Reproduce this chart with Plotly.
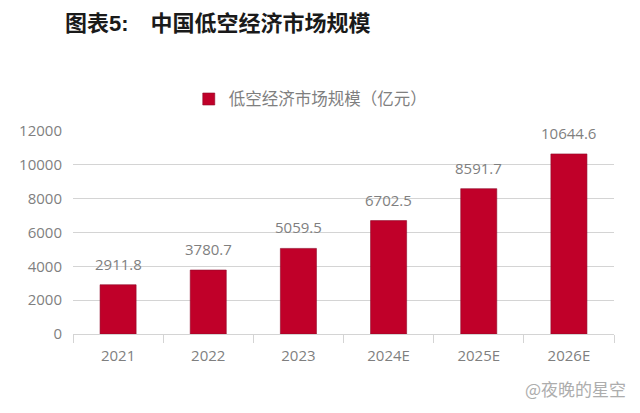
import plotly.graph_objects as go

years = ["2021", "2022", "2023", "2024E", "2025E", "2026E"]
market_size = [2911.8, 3780.7, 5059.5, 6702.5, 8591.7, 10644.6]
y_ticks = [0, 2000, 4000, 6000, 8000, 10000, 12000]

# the page body has an 8px margin, so figure coords = screenshot coords - 8
W, H = 624, 397
LEFT, RIGHT, TOP, BOTTOM = 65, 606, 123, 326
GREY = "#7f7f7f"
LINE = "#d4d4d4"
CJK = "Noto Sans CJK SC"

fig = go.Figure(
    go.Bar(x=years, y=market_size, name="低空经济市场规模（亿元）",
           width=0.4, marker=dict(color="#c00029", line=dict(color="#8e0a2a", width=0.6))))

fig.update_layout(
    width=W, height=H, autosize=False,
    paper_bgcolor="white", plot_bgcolor="white",
    font=dict(family="Open Sans, " + CJK, color=GREY),
    margin=dict(l=LEFT, r=W - RIGHT, t=TOP, b=H - BOTTOM, pad=0),
    showlegend=True,
    legend=dict(orientation="h", x=0.214, xanchor="left", y=1.07, yanchor="bottom",
                font=dict(family=CJK, size=16.5, color=GREY), itemwidth=30),
    title=dict(text="<b>图表5:　中国低空经济市场规模</b>", x=57 / W, xanchor="left",
               y=1 - 15.5 / H, yanchor="middle",
               font=dict(family="Liberation Sans, " + CJK, size=22, color="#1a1a1a")),
)
fig.update_xaxes(type="category", categoryorder="array", categoryarray=years, range=[-0.5, 5.5],
                 showgrid=False, showline=True, linecolor=LINE, linewidth=1,
                 tickson="boundaries", ticks="outside", ticklen=8, tickcolor=LINE,
                 ticklabelstandoff=8, tickangle=0, tickfont=dict(size=15, color=GREY))
fig.update_yaxes(range=[0, 12000], tickvals=y_ticks, tickformat="d", showgrid=True,
                 gridcolor=LINE, gridwidth=1, zeroline=False, ticks="", showline=False,
                 ticklabelstandoff=10, tickfont=dict(size=15, color=GREY))

# value labels sit well above the bars; x is the category index here
for i, value in enumerate(market_size):
    fig.add_annotation(x=i, y=value, text=f"{value:.1f}", showarrow=False, yanchor="middle",
                       yshift=21, font=dict(size=15, color=GREY))

# watermark, placed in plot-area fractions
fig.add_annotation(text="@夜晚的星空", xref="paper", yref="paper",
                   x=(620 - LEFT) / (RIGHT - LEFT), xanchor="right",
                   y=1 - (380 - TOP) / (BOTTOM - TOP), yanchor="middle", showarrow=False,
                   font=dict(family=CJK, size=17, color="#adadad"))

fig.write_html("out.html")
